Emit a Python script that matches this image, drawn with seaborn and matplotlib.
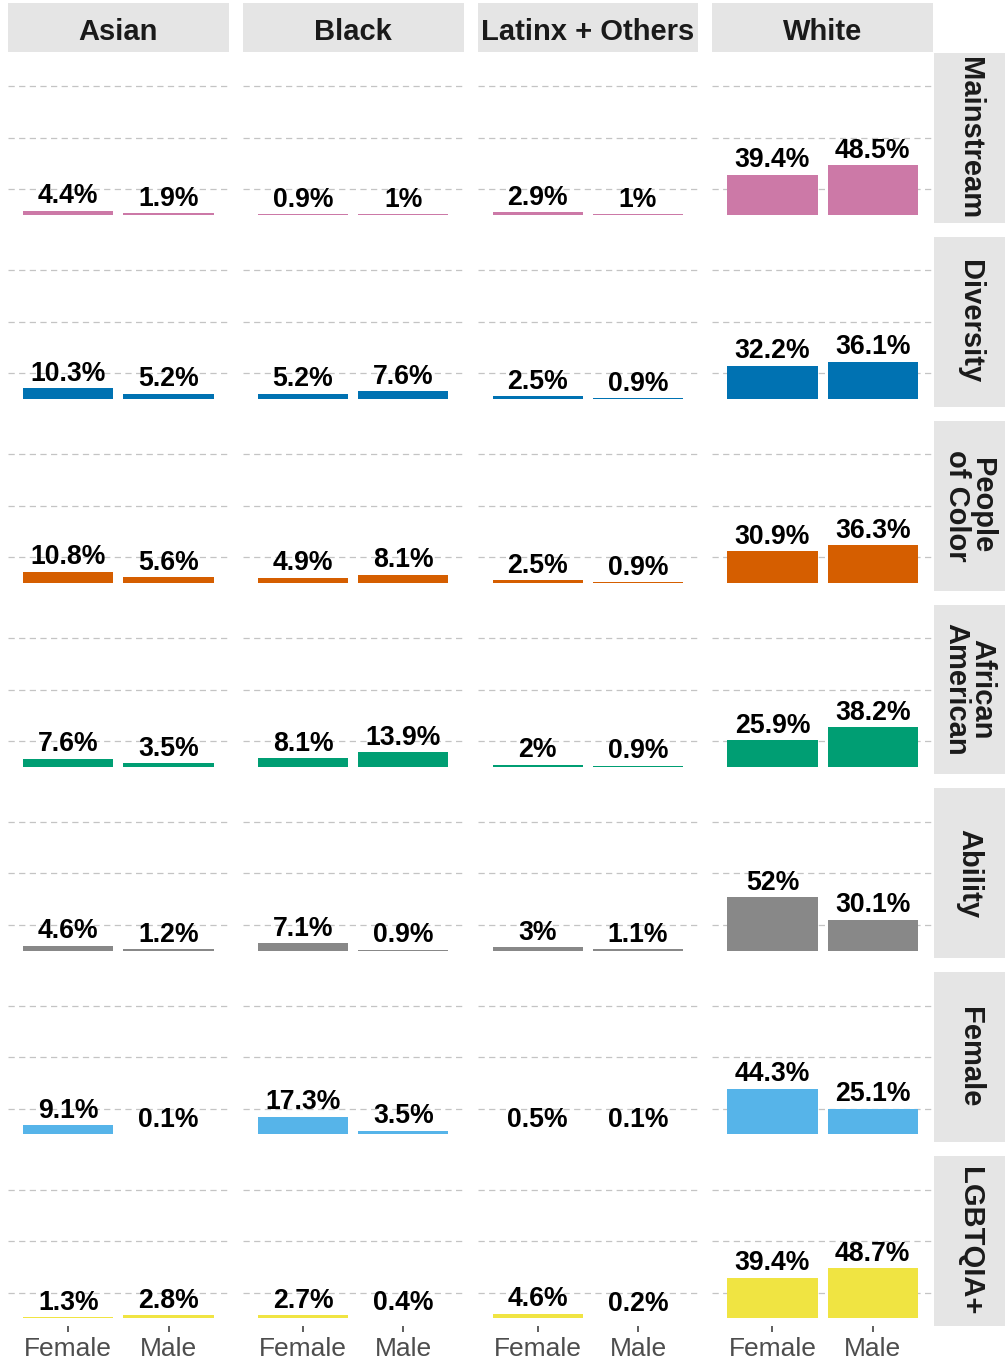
import matplotlib
matplotlib.use("Agg")
import matplotlib.pyplot as plt
from matplotlib.patches import Rectangle
import seaborn as sns
import pandas as pd

# ---- data ----
races = ["Asian", "Black", "Latinx + Others", "White"]
genders = ["Female", "Male"]
categories = ["Mainstream", "Diversity", "People\nof Color", "African\nAmerican",
              "Ability", "Female", "LGBTQIA+"]
colors = ["#CC79A7", "#0072B2", "#D55E00", "#009E73", "#888888", "#56B4E9", "#F0E442"]

# values per category: Asian F, Asian M, Black F, Black M, Latinx F, Latinx M, White F, White M
mainstream = [4.4, 1.9, 0.9, 1.0, 2.9, 1.0, 39.4, 48.5]
diversity = [10.3, 5.2, 5.2, 7.6, 2.5, 0.9, 32.2, 36.1]
people_of_color = [10.8, 5.6, 4.9, 8.1, 2.5, 0.9, 30.9, 36.3]
african_american = [7.6, 3.5, 8.1, 13.9, 2.0, 0.9, 25.9, 38.2]
ability = [4.6, 1.2, 7.1, 0.9, 3.0, 1.1, 52.0, 30.1]
female = [9.1, 0.1, 17.3, 3.5, 0.5, 0.1, 44.3, 25.1]
lgbtqia = [1.3, 2.8, 2.7, 0.4, 4.6, 0.2, 39.4, 48.7]

all_values = [mainstream, diversity, people_of_color, african_american, ability, female, lgbtqia]

rows = []
for cat, vals in zip(categories, all_values):
    i = 0
    for race in races:
        for g in genders:
            rows.append({"category": cat, "race": race, "gender": g, "value": vals[i]})
            i += 1
df = pd.DataFrame(rows)

# ---- figure ----
sns.set_style("white")
plt.rcParams["font.family"] = ["Liberation Sans", "DejaVu Sans"]

W, H = 1005, 1364
fig, axes = plt.subplots(len(categories), len(races), figsize=(W / 100, H / 100), dpi=100)
fig.subplots_adjust(left=8 / W, right=933 / W, top=1 - 53 / H, bottom=1 - 1326 / H,
                    wspace=14 / 220.75, hspace=14 / 170)

label_fs = 19.2
strip_fs = 21
for r, cat in enumerate(categories):
    for c, race in enumerate(races):
        ax = axes[r, c]
        sub = df[(df["category"] == cat) & (df["race"] == race)]
        sns.barplot(data=sub, x="gender", y="value", order=genders, color=colors[r],
                    width=0.9, saturation=1, errorbar=None, edgecolor="none",
                    linewidth=0, ax=ax)
        ax.bar_label(ax.containers[0], labels=[f"{v:g}%" for v in sub["value"]],
                     padding=1, fontsize=label_fs, fontweight="bold", color="black")
        ax.set_ylim(-7.5, 157.5)
        ax.set_xlim(-0.6, 1.6)
        ax.set_yticks([25, 75, 125])
        ax.yaxis.grid(True, linestyle=(0, (5, 3.5)), color="#c4c4c4", linewidth=0.9)
        ax.set_axisbelow(True)
        ax.tick_params(left=False, labelleft=False)
        ax.set_xlabel("")
        ax.set_ylabel("")
        for s in ax.spines.values():
            s.set_visible(False)
        if r == len(categories) - 1:
            ax.tick_params(axis="x", bottom=True, labelbottom=True, length=4,
                           width=1.1, color="#333333", labelsize=19,
                           labelcolor="#4d4d4d", pad=4)
        else:
            ax.tick_params(axis="x", bottom=False, labelbottom=False)

# top strips
for c, race in enumerate(races):
    bb = axes[0, c].get_position()
    y0 = 1 - 52 / H
    h = 49 / H
    fig.patches.append(Rectangle((bb.x0, y0), bb.width, h, transform=fig.transFigure,
                                 facecolor="#e5e5e5", edgecolor="none", zorder=0))
    fig.text(bb.x0 + bb.width / 2, 1 - 29 / H, race, ha="center", va="center_baseline",
             fontsize=strip_fs, fontweight="bold", color="#1a1a1a")

# right strips
for r, cat in enumerate(categories):
    bb = axes[r, -1].get_position()
    x0 = 934 / W
    w = 1 - x0
    fig.patches.append(Rectangle((x0, bb.y0), w, bb.height, transform=fig.transFigure,
                                 facecolor="#e5e5e5", edgecolor="none", zorder=0))
    fig.text(x0 + w / 2, bb.y0 + bb.height / 2, cat, ha="center", va="center",
             rotation=-90, fontsize=strip_fs, fontweight="bold", color="#1a1a1a",
             linespacing=0.9, multialignment="center")

fig.savefig("out.png", dpi=100, facecolor="white")
